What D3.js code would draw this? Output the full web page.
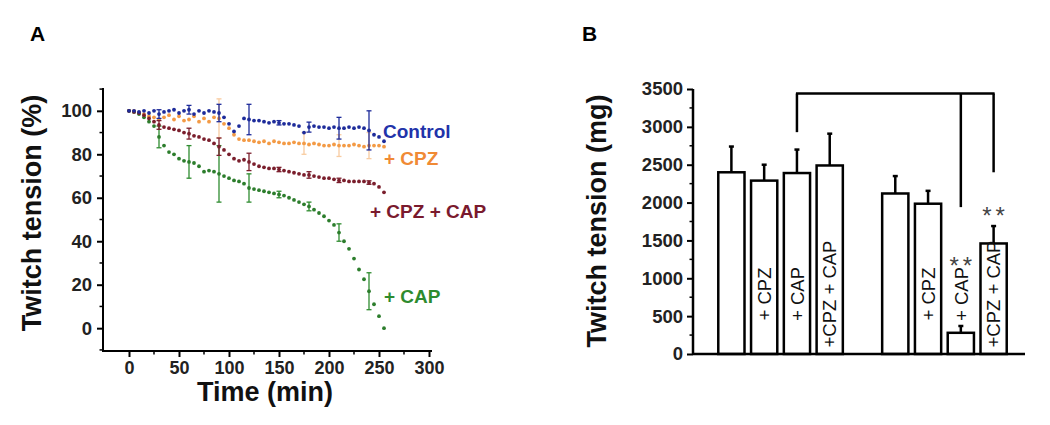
<!DOCTYPE html>
<html><head><meta charset="utf-8">
<script src="https://cdn.jsdelivr.net/npm/d3@7"></script>
<style>
html,body{margin:0;padding:0;background:#fff;}
svg{display:block;font-family:"Liberation Sans",Arial,sans-serif;}
</style></head>
<body><svg id="c" width="1050" height="425"></svg>
<script>
// ---------- Panel A data ----------
const times = [0,5,10,15,20,25,30,35,40,45,50,55,60,65,70,75,80,85,90,95,100,105,110,115,120,125,130,135,140,145,150,155,160,165,170,175,180,185,190,195,200,205,210,215,220,225,230,235,240,245,250,255];
const control = [100,100,99.5,100,99,100,98.5,99.5,100,100.5,99,100,100.5,98.5,100,99,100,99.5,99,97,94,90.5,93,96.5,96,95.5,95.5,95,94.5,95,94.5,94,94,93.5,93,90,92.5,93,92.5,92.5,92,92.5,92,92,92.5,92,92.5,92,91,89,88,86];
const cpz = [100,100,99,98.5,97.5,97,96,97,98,96,97.5,95.5,96,97.5,95,96.5,95,97,96.5,94,92,89,87,86.5,86.5,86,85.5,86,85,86,85.5,85,85,85.5,85,85,84.5,85,84.5,84,84,84.5,84,84,84,84.5,84,83.5,84,84,84,83.5];
const cpzCap = [100,99.5,99,98,96.5,95,93.5,92.5,92,91.5,91,90,89.5,88.5,88,87,86.5,85,83.5,82,80,78,77,77.5,76.5,75.5,74.5,74,73.5,73.5,73,72.5,72,71.5,71,70.5,70.5,70,69.5,69,69,68.5,68,68,67.5,67.5,67.5,67.5,67,66.5,65,62.5];
const cap = [100,99.5,98.5,97,95,93,88,84,81,80,78,77,76.5,76,74.5,72,72.5,72,71,70,69,68,67.5,66.5,64.5,64,63.5,63,62.5,62,61.5,61,60,59,58,57,56,54.5,53,51.5,49.5,47.5,44,40,36.5,32,27,22.5,17,11,5.5,0];
// error bars (time, SEM)
const errTimes = [30,60,90,120,150,180,210,240];
const controlErr = [2,2,4,7,1,2.3,5,9];
const cpzErrTimes = [90,175,210,240];
const cpzErr = [9,5,5,6];
const cpzCapErr = [2,2.5,4,4,1,1.5,1,0.8];
const capErr = [5,7.5,13,6.5,1.5,2,4,8.5];
const seriesNames = ["Control","+ CPZ","+ CPZ + CAP","+ CAP"];
const xTicksA = [0,50,100,150,200,250,300];
const yTicksA = [0,20,40,60,80,100];

// ---------- Panel B data ----------
const barKeys = ["c1","cpz1","cap1","cpzcap1","gap","c2","cpz2","cap2","cpzcap2"];
const barLabels = ["","+ CPZ","+ CAP","+CPZ + CAP","","","+ CPZ","+ CAP","+CPZ + CAP"];
const barValues = [2400,2290,2390,2490,null,2120,1985,280,1460];
const barErrors = [340,210,310,420,null,230,170,90,230];
const sigKeys = ["cap2","cpzcap2"];
const sigLevels = [1230,1890];
const bracketTop = 3440;
const bracketLegs = [["cap1",2930],["cap2",1940],["cpzcap2",2400]];
const yTicksB = [0,500,1000,1500,2000,2500,3000,3500];

const svg = d3.select("#c");
const F = '"Liberation Sans",Arial,sans-serif';

// ================= Panel A =================
const xA = d3.scaleLinear().domain([-26,303]).range([103,432]);
const yA = d3.scaleLinear().domain([-10.5,110.5]).range([351,88]);
const gA = svg.append("g");

gA.append("line").attr("x1",xA(-26)).attr("x2",xA(303)).attr("y1",yA(-10.5)).attr("y2",yA(-10.5)).attr("stroke","#000").attr("stroke-width",2);
gA.append("line").attr("x1",xA(-26)).attr("x2",xA(-26)).attr("y1",yA(-10.5)+1).attr("y2",yA(110.5)).attr("stroke","#000").attr("stroke-width",2);

const xAxisA = d3.axisBottom(xA).tickValues(xTicksA).tickSize(6).tickPadding(4).tickFormat(d3.format("d"));
const gx = gA.append("g").attr("transform",`translate(0,${yA(-10.5)})`).call(xAxisA);
gx.select(".domain").remove();
gx.selectAll("line").attr("stroke-width",2);
gx.selectAll("text").attr("font-size",18).attr("font-weight","bold").attr("font-family",F).attr("fill","#222");
gA.append("g").selectAll("line").data([25,75,125,175,225,275]).join("line")
  .attr("x1",d=>xA(d)).attr("x2",d=>xA(d)).attr("y1",yA(-10.5)).attr("y2",yA(-10.5)+3.5).attr("stroke","#000").attr("stroke-width",1.5);

const yAxisA = d3.axisLeft(yA).tickValues(yTicksA).tickSize(6).tickPadding(5).tickFormat(d3.format("d"));
const gy = gA.append("g").attr("transform",`translate(${xA(-26)},0)`).call(yAxisA);
gy.select(".domain").remove();
gy.selectAll("line").attr("stroke-width",2);
gy.selectAll("text").attr("font-size",18.5).attr("font-weight","bold").attr("font-family",F).attr("fill","#222");
gA.append("g").selectAll("line").data([-10,10,30,50,70,90,110]).join("line")
  .attr("x1",xA(-26)).attr("x2",xA(-26)-3.5).attr("y1",d=>yA(d)).attr("y2",d=>yA(d)).attr("stroke","#000").attr("stroke-width",1.5);

gA.append("text").attr("x",265).attr("y",401).attr("text-anchor","middle").attr("font-size",27).attr("font-weight","bold").attr("fill","#111").text("Time (min)");
gA.append("text").attr("transform","translate(41,213) rotate(-90)").attr("text-anchor","middle").attr("font-size",27).attr("font-weight","bold").attr("fill","#111").text("Twitch tension (%)");
svg.append("text").attr("x",30).attr("y",41).attr("font-size",21).attr("font-weight","bold").text("A");

function errBars(g, ts, vals, errs, color, opacity){
  const data = ts.map((t,i)=>({t, v: vals[times.indexOf(t)], e: errs[i]}));
  const eg = g.append("g").attr("stroke",color).attr("stroke-width",1.3).attr("opacity",opacity);
  eg.selectAll("line.v").data(data).join("line").attr("class","v")
    .attr("x1",d=>xA(d.t)).attr("x2",d=>xA(d.t)).attr("y1",d=>yA(d.v-d.e)).attr("y2",d=>yA(d.v+d.e));
  eg.selectAll("line.t").data(data).join("line").attr("class","t")
    .attr("x1",d=>xA(d.t)-2.5).attr("x2",d=>xA(d.t)+2.5).attr("y1",d=>yA(d.v+d.e)).attr("y2",d=>yA(d.v+d.e));
  eg.selectAll("line.b").data(data).join("line").attr("class","b")
    .attr("x1",d=>xA(d.t)-2.5).attr("x2",d=>xA(d.t)+2.5).attr("y1",d=>yA(d.v-d.e)).attr("y2",d=>yA(d.v-d.e));
}
function dots(g, vals, color){
  g.append("g").selectAll("circle").data(vals.map((v,i)=>({t:times[i],v}))).join("circle")
    .attr("cx",d=>xA(d.t)).attr("cy",d=>yA(d.v)).attr("r",1.9).attr("fill",color);
}
const cBlue="#1d2b9a", cOrange="#f39a45", cRed="#7a1e2c", cGreen="#2f8c30";
errBars(gA, cpzErrTimes, cpz, cpzErr, "#f6b77a", 0.7);
dots(gA, cpz, cOrange);
errBars(gA, errTimes, cap, capErr, cGreen, 1);
dots(gA, cap, "#2c7d2c");
errBars(gA, errTimes, cpzCap, cpzCapErr, cRed, 1);
dots(gA, cpzCap, cRed);
errBars(gA, errTimes, control, controlErr, cBlue, 1);
dots(gA, control, cBlue);

const lab = [
  {t:seriesNames[0], x:383, y:138, c:"#2233aa"},
  {t:seriesNames[1], x:384, y:165, c:"#f08a35"},
  {t:seriesNames[2], x:370, y:218, c:"#7a1a2e"},
  {t:seriesNames[3], x:384, y:303, c:"#2e8b2e"}
];
gA.append("g").selectAll("text").data(lab).join("text")
  .attr("x",d=>d.x).attr("y",d=>d.y).attr("fill",d=>d.c).attr("font-size",19).attr("font-weight","bold").text(d=>d.t);

// ================= Panel B =================
const xB = d3.scaleBand().domain(barKeys).range([715,1010]).paddingInner(0.2).paddingOuter(0.1);
const yB = d3.scaleLinear().domain([0,3500]).range([354,89]);
const gB = svg.append("g");
const bars = barKeys.map((k,i)=>({k, v:barValues[i], e:barErrors[i], l:barLabels[i]})).filter(d=>d.v!=null);
const cx = k => xB(k)+xB.bandwidth()/2;

gB.append("g").selectAll("line").data(bars).join("line")
  .attr("x1",d=>cx(d.k)).attr("x2",d=>cx(d.k)).attr("y1",d=>yB(d.v)).attr("y2",d=>yB(d.v+d.e))
  .attr("stroke","#000").attr("stroke-width",2.5);
gB.append("g").selectAll("line").data(bars).join("line")
  .attr("x1",d=>cx(d.k)-2.5).attr("x2",d=>cx(d.k)+2.5).attr("y1",d=>yB(d.v+d.e)).attr("y2",d=>yB(d.v+d.e))
  .attr("stroke","#000").attr("stroke-width",2.5);
gB.append("g").selectAll("rect").data(bars).join("rect")
  .attr("x",d=>xB(d.k)).attr("width",xB.bandwidth()).attr("y",d=>yB(d.v)).attr("height",d=>yB(0)-yB(d.v))
  .attr("fill","#fff").attr("stroke","#000").attr("stroke-width",2.5);
gB.append("g").selectAll("text").data(bars.filter(d=>d.l)).join("text")
  .attr("transform",d=>`translate(${cx(d.k)},294) rotate(-90)`).attr("text-anchor","middle").attr("dy","0.36em")
  .attr("font-size",18.5).attr("fill","#111").text(d=>d.l);

gB.append("line").attr("x1",693).attr("x2",1025).attr("y1",yB(0)).attr("y2",yB(0)).attr("stroke","#000").attr("stroke-width",2.5);
const yAxisB = d3.axisLeft(yB).tickValues(yTicksB).tickSize(6).tickPadding(4).tickFormat(d3.format("d"));
const gyb = gB.append("g").attr("transform","translate(693,0)").call(yAxisB);
gyb.select(".domain").attr("stroke-width",2.5).attr("d",`M0,${yB(0)+1}V${yB(3500)}`);
gyb.selectAll("line").attr("stroke-width",2);
gyb.selectAll("text").attr("font-size",18.5).attr("font-weight","bold").attr("font-family",F).attr("fill","#222");
gB.append("g").selectAll("line").data([250,750,1250,1750,2250,2750,3250]).join("line")
  .attr("x1",693).attr("x2",689.5).attr("y1",d=>yB(d)).attr("y2",d=>yB(d)).attr("stroke","#000").attr("stroke-width",1.5);

gB.append("text").attr("transform","translate(606,221) rotate(-90)").attr("text-anchor","middle").attr("font-size",27).attr("font-weight","bold").attr("fill","#111").text("Twitch tension (mg)");
svg.append("text").attr("x",582).attr("y",41).attr("font-size",21).attr("font-weight","bold").text("B");

const bl = d3.min(bracketLegs,d=>cx(d[0])), br = d3.max(bracketLegs,d=>cx(d[0]));
gB.append("line").attr("x1",bl-1).attr("x2",br+1).attr("y1",yB(bracketTop)).attr("y2",yB(bracketTop)).attr("stroke","#000").attr("stroke-width",2.5);
gB.append("g").selectAll("line").data(bracketLegs).join("line")
  .attr("x1",d=>cx(d[0])).attr("x2",d=>cx(d[0])).attr("y1",yB(bracketTop)).attr("y2",d=>yB(d[1]))
  .attr("stroke","#000").attr("stroke-width",2.5);
gB.append("g").selectAll("text").data(sigKeys.map((k,i)=>({k,v:sigLevels[i]}))).join("text")
  .attr("x",d=>cx(d.k)+2).attr("y",d=>yB(d.v)+13).attr("text-anchor","middle").attr("font-size",24).attr("letter-spacing","4px")
  .attr("fill","#444").text("**");
</script></body></html>
